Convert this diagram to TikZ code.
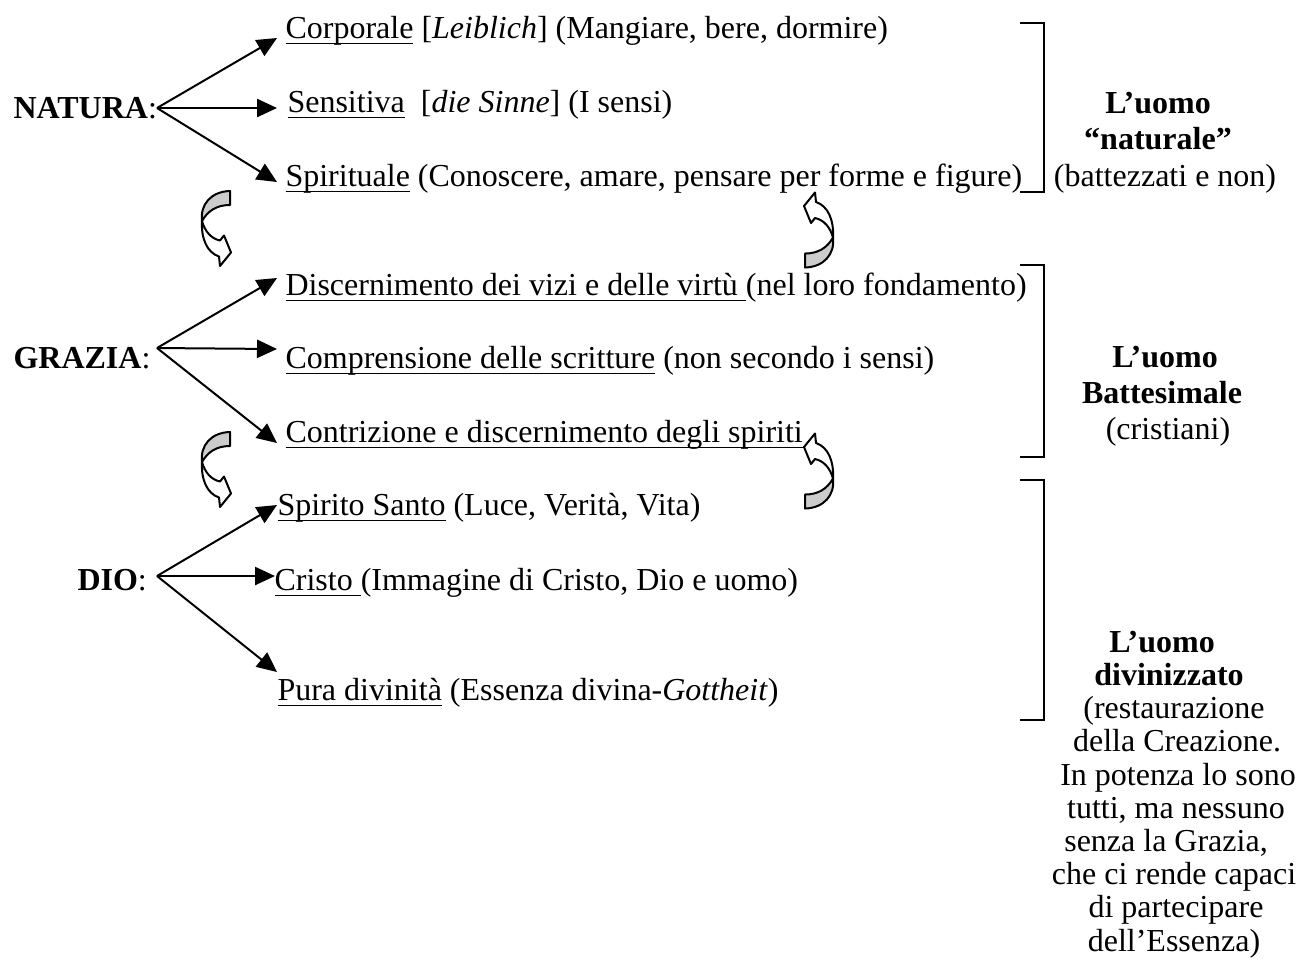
\documentclass[tikz,border=0pt]{standalone}
\usepackage{fontspec}
\setmainfont{Liberation Serif}
\usetikzlibrary{arrows.meta}
\newcommand\ulx[1]{\setbox0\hbox{#1}\rlap{\rule[-2.4pt]{\wd0}{0.7pt}}\box0\relax}
\tikzset{
  curvarrow/.pic={
    \filldraw[line width=0.75pt,line join=round,fill=gray!40]
      (13,-37.5) .. controls (-6,-37) and (-17,-24) .. (-15,-7.5)
      .. controls (-9,-18) and (0,-23.5) .. (13,-23.5) -- cycle;
    \filldraw[line width=0.75pt,line join=round,fill=white]
      (-15,-7.5) .. controls (-12,3) and (-6,10) .. (3,12)
      -- (7,7) -- (14,24) -- (3,37.5) -- (2,28)
      .. controls (-10,24) and (-16,10) .. (-15,-7.5) -- cycle;
  }
}
\begin{document}
\begin{tikzpicture}[x=0.375pt,y=-0.375pt,
  font=\fontsize{12pt}{13.5pt}\selectfont,
  lbl/.style={anchor=base west,inner sep=0pt},
  rt/.style={anchor=base,inner sep=0pt},
  arr/.style={-{Triangle[length=7.5pt,width=6.8pt]},line width=0.75pt},
  brk/.style={line width=0.75pt}]
\path[use as bounding box] (0,0) rectangle (1301,963);

% NATURA
\node[lbl] (natura) at (13,118) {\textbf{NATURA}:};
\coordinate (nO) at (157,108);
\coordinate (nt1) at (277,38);
\coordinate (nt2) at (277,108);
\coordinate (nt3) at (277,182);
\draw[arr] (nO) -- (nt1);
\draw[arr] (nO) -- (nt2);
\draw[arr] (nO) -- (nt3);
\node[lbl] (n1) at (285,38) {\ulx{Corporale} [\textit{Leiblich}] (Mangiare, bere, dormire)};
\node[lbl] (n2) at (287,112) {\ulx{Sensitiva}\ \ [\textit{die Sinne}] (I sensi)};
\node[lbl] (n3) at (285,186) {\ulx{Spirituale} (Conoscere, amare, pensare per forme e figure)};

% GRAZIA
\node[lbl] (grazia) at (13,368) {\textbf{GRAZIA}:};
\coordinate (gO) at (157,348);
\coordinate (gt1) at (277,278);
\coordinate (gt2) at (277,349);
\coordinate (gt3) at (277,443);
\draw[arr] (gO) -- (gt1);
\draw[arr] (gO) -- (gt2);
\draw[arr] (gO) -- (gt3);
\node[lbl] (g1) at (285,295) {\ulx{Discernimento dei vizi e delle virtù\ }(nel loro fondamento)};
\node[lbl] (g2) at (285,368) {\ulx{Comprensione delle scritture} (non secondo i sensi)};
\node[lbl] (g3) at (285,442) {\ulx{Contrizione e discernimento degli spiriti}};

% DIO
\node[lbl] (dio) at (77,590) {\textbf{DIO}:};
\coordinate (dO) at (157,576);
\coordinate (dt1) at (277,505);
\coordinate (dt2) at (275,576);
\coordinate (dt3) at (277,672);
\draw[arr] (dO) -- (dt1);
\draw[arr] (dO) -- (dt2);
\draw[arr] (dO) -- (dt3);
\node[lbl] (d1) at (277,515) {\ulx{Spirito Santo} (Luce, Verità, Vita)};
\node[lbl] (d2) at (274,590) {\ulx{Cristo\ }(Immagine di Cristo, Dio e uomo)};
\node[lbl] (d3) at (277,700) {\ulx{Pura divinità} (Essenza divina-\textit{Gottheit})};

% curved arrows
\pic (ca1) at (217,228.5) {curvarrow};
\pic (ca2) at (217,469.5) {curvarrow};
\pic[rotate=180] (ca3) at (818,230) {curvarrow};
\pic[rotate=180] (ca4) at (818,471) {curvarrow};

% brackets
\draw[brk] (1020,23) -- (1044,23) -- (1044,192) -- (1020,192);
\draw[brk] (1020,265) -- (1044,265) -- (1044,457) -- (1020,457);
\draw[brk] (1020,480) -- (1044,480) -- (1044,720) -- (1020,720);

% right texts
\node[rt] (r1a) at (1158,113) {\textbf{L’uomo}};
\node[rt] (r1b) at (1158,149.5) {\textbf{“naturale”}};
\node[rt] (r1c) at (1165,186) {(battezzati e non)};

\node[rt] (r2a) at (1165,367) {\textbf{L’uomo}};
\node[rt] (r2b) at (1162,403) {\textbf{Battesimale}};
\node[rt] (r2c) at (1168,439) {(cristiani)};

\node[rt] (r3a) at (1162,652) {\textbf{L’uomo}};
\node[rt] (r3b) at (1169,685) {\textbf{divinizzato}};
\node[rt] (r3c) at (1174,718.5) {(restaurazione};
\node[rt] (r3d) at (1177,751.5) {della Creazione.};
\node[rt] (r3e) at (1178,785) {In potenza lo sono};
\node[rt] (r3f) at (1176,818) {tutti, ma nessuno};
\node[rt] (r3g) at (1166,851) {senza la Grazia,};
\node[rt] (r3h) at (1174,884.5) {che ci rende capaci};
\node[rt] (r3i) at (1176,917.5) {di partecipare};
\node[rt] (r3j) at (1174,951) {dell’Essenza)};
\end{tikzpicture}
\end{document}
